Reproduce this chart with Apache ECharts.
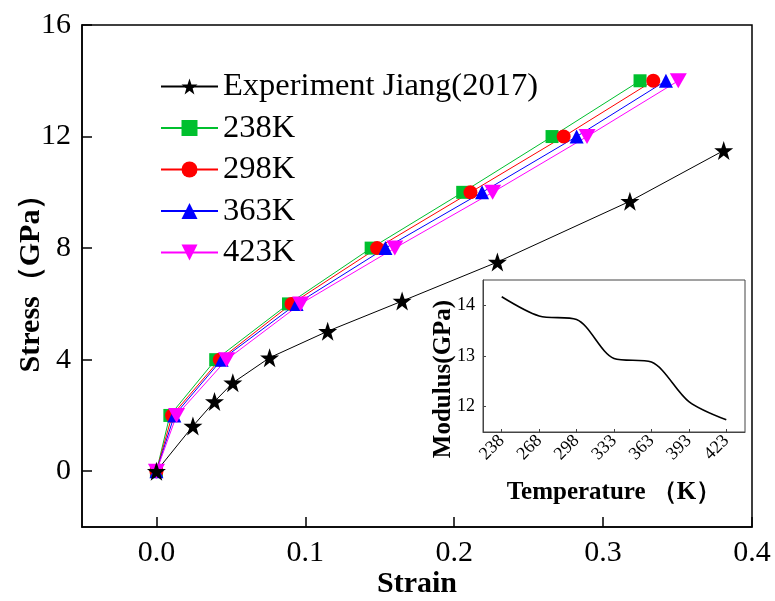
<!DOCTYPE html>
<html>
<head>
<meta charset="utf-8">
<script src="https://cdn.jsdelivr.net/npm/echarts@6/dist/echarts.min.js"></script>
<style>html,body{margin:0;padding:0;background:#fff;}#c{width:775px;height:601px;}</style>
</head>
<body>
<div id="c"></div>
<script>
// ---- data ----
const expStrain = [0, 0.0245, 0.039, 0.0513, 0.076, 0.115, 0.165, 0.229, 0.318, 0.381];
const expStress = [0, 1.62, 2.5, 3.17, 4.07, 5.02, 6.1, 7.5, 9.68, 11.5];
const simStress = [0, 2, 4, 6, 8, 10, 12, 14];
const strain238 = [0, 0.009, 0.0398, 0.0887, 0.1442, 0.2057, 0.2657, 0.3248];
const strain298 = [0, 0.0105, 0.0425, 0.0907, 0.1482, 0.2109, 0.2735, 0.3337];
const strain363 = [0, 0.012, 0.0438, 0.0941, 0.1538, 0.2187, 0.2822, 0.3422];
const strain423 = [0, 0.0135, 0.0471, 0.0968, 0.1601, 0.2258, 0.2892, 0.3505];
const xTicks = [0, 0.1, 0.2, 0.3, 0.4];
const yTicks = [0, 4, 8, 12, 16];
const tempLabels = ['238', '268', '298', '333', '363', '393', '423'];
const modulus = [14.17, 13.79, 13.72, 12.95, 12.88, 12.1, 11.74];
const insetYTicks = [12, 13, 14];

const FONT = "'Liberation Serif','Times New Roman',serif";
const starPath = 'path://M50,0 L61.8,34.5 L98,34.5 L68.8,55.9 L79.4,90.5 L50,69 L20.6,90.5 L31.2,55.9 L2,34.5 L38.2,34.5 Z';
const invTri = 'path://M0,0 L20,0 L10,17 Z';

function pairs(xs, ys) { return xs.map((x, i) => [x, ys[i]]); }

function simSeries(name, xs, color, symbol, size) {
  return {
    name: name, type: 'line', xAxisIndex: 0, yAxisIndex: 0,
    data: pairs(xs, simStress),
    symbol: symbol, symbolSize: size, showAllSymbol: true,
    lineStyle: { color: color, width: 1 },
    itemStyle: { color: color, borderWidth: 0 },
    emphasis: { disabled: true }
  };
}

const chart = echarts.init(document.getElementById('c'), null, { renderer: 'canvas' });
chart.setOption({
  backgroundColor: '#ffffff',
  animation: false,
  textStyle: { fontFamily: FONT },
  legend: {
    data: ['Experiment Jiang(2017)', '238K', '298K', '363K', '423K'],
    orient: 'vertical',
    left: 155, top: 65,
    itemWidth: 57, itemHeight: 20, itemGap: 8.5,
    textStyle: { fontFamily: FONT, fontSize: 32.5, color: '#000', lineHeight: 32 },
    selectedMode: false
  },
  grid: [
    { left: 82, right: 23, top: 25, bottom: 74, outerBoundsMode: 'none', containLabel: false, show: true, borderColor: '#000', borderWidth: 1.5, backgroundColor: 'transparent' },
    { left: 483, right: 30, top: 280, height: 152, outerBoundsMode: 'none', containLabel: false, show: true, borderColor: '#444', borderWidth: 1, backgroundColor: '#fff', z: 5 }
  ],
  xAxis: [
    {
      gridIndex: 0, type: 'value', min: -0.05, max: 0.4,
      name: 'Strain', nameLocation: 'middle', nameGap: 42, nameMoveOverlap: false,
      nameTextStyle: { fontFamily: FONT, fontSize: 30, fontWeight: 'bold', color: '#000' },
      axisLine: { show: true, onZero: false, lineStyle: { color: '#000', width: 1.5 } },
      axisTick: { show: true, inside: true, length: 10, customValues: xTicks, lineStyle: { color: '#000', width: 1.5 } },
      axisLabel: { customValues: xTicks, margin: 11, fontFamily: FONT, fontSize: 30, color: '#000', formatter: v => v.toFixed(1) },
      splitLine: { show: false }
    },
    {
      gridIndex: 1, type: 'category', data: tempLabels, boundaryGap: true,
      name: 'Temperature （K）', nameLocation: 'middle', nameGap: 48, nameMoveOverlap: false,
      nameTextStyle: { fontFamily: FONT, fontSize: 25, fontWeight: 'bold', color: '#000' },
      axisLine: { show: true, lineStyle: { color: '#444', width: 1 } },
      axisTick: { show: true, inside: true, length: 3, alignWithLabel: true, lineStyle: { color: '#444' } },
      axisLabel: { rotate: 45, margin: 6, fontFamily: FONT, fontSize: 18, color: '#000' },
      splitLine: { show: false }, z: 6
    }
  ],
  yAxis: [
    {
      gridIndex: 0, type: 'value', min: -2, max: 16,
      name: 'Stress（GPa）', nameLocation: 'middle', nameGap: 36, nameRotate: 90, nameMoveOverlap: false,
      nameTextStyle: { fontFamily: FONT, fontSize: 30, fontWeight: 'bold', color: '#000' },
      axisLine: { show: true, onZero: false, lineStyle: { color: '#000', width: 1.5 } },
      axisTick: { show: true, inside: true, length: 10, customValues: yTicks, lineStyle: { color: '#000', width: 1.5 } },
      axisLabel: { customValues: yTicks, margin: 11, fontFamily: FONT, fontSize: 30, color: '#000' },
      splitLine: { show: false }
    },
    {
      gridIndex: 1, type: 'value', min: 11.5, max: 14.5,
      name: 'Modulus(GPa)', nameLocation: 'middle', nameGap: 27, nameRotate: 90, nameMoveOverlap: false,
      nameTextStyle: { fontFamily: FONT, fontSize: 25, fontWeight: 'bold', color: '#000', padding: [0, 46, 0, 0] },
      axisLine: { show: true, lineStyle: { color: '#444', width: 1 } },
      axisTick: { show: true, inside: true, length: 3, customValues: insetYTicks, lineStyle: { color: '#444' } },
      axisLabel: { customValues: insetYTicks, margin: 8, fontFamily: FONT, fontSize: 18, color: '#000' },
      splitLine: { show: false }, z: 6
    }
  ],
  series: [
    simSeries('238K', strain238, '#00C02E', 'rect', 13),
    simSeries('298K', strain298, '#FF0000', 'circle', 14),
    simSeries('363K', strain363, '#0000FF', 'triangle', 14),
    simSeries('423K', strain423, '#FF00FF', invTri, [17, 15]),
    {
      name: 'Experiment Jiang(2017)', type: 'line', xAxisIndex: 0, yAxisIndex: 0,
      data: pairs(expStrain, expStress),
      symbol: starPath, symbolSize: 19, showAllSymbol: true,
      lineStyle: { color: '#000', width: 1 },
      itemStyle: { color: '#000', borderWidth: 0 },
      emphasis: { disabled: true }
    },
    {
      name: 'Modulus', type: 'line', xAxisIndex: 1, yAxisIndex: 1,
      data: modulus, smooth: 0.3, symbol: 'none',
      lineStyle: { color: '#000', width: 1.6 },
      emphasis: { disabled: true }, z: 7
    }
  ]
});
</script>
</body>
</html>
